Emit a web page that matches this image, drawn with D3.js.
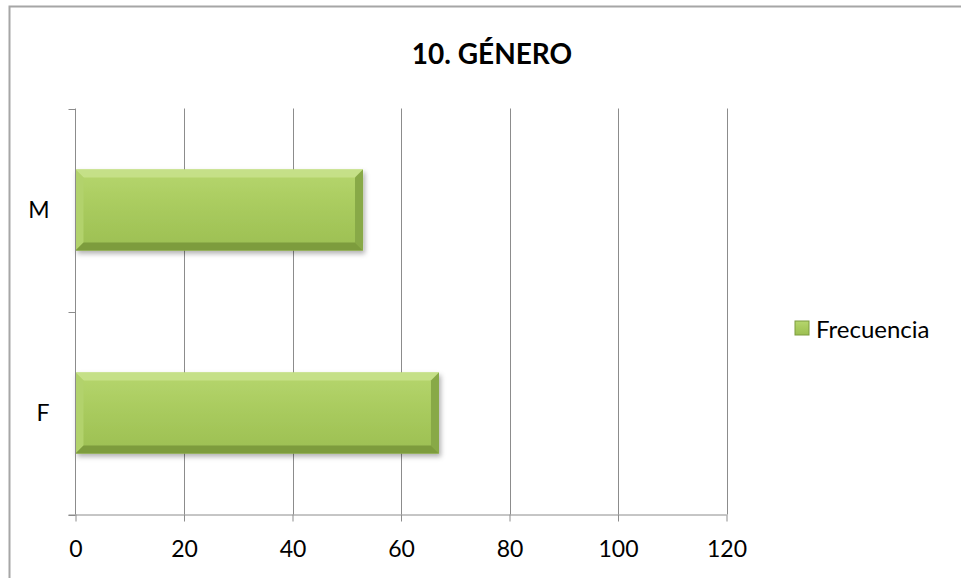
<!DOCTYPE html>
<html>
<head>
<meta charset="utf-8" />
<title>10. GÉNERO</title>
<script src="https://d3js.org/d3.v7.min.js"></script>
<style>
  body { margin: 0; background: #fff; }
  text { font-family: Lato, "Open Sans", sans-serif; fill: #000; }
</style>
</head>
<body>
<svg width="961" height="578"></svg>
<script>
// data
const categories = ["M", "F"];
const frecuencia = [53, 67];
const xTicks = [0, 20, 40, 60, 80, 100, 120];
const seriesName = "Frecuencia";
const chartTitle = "10. GÉNERO";

const svg = d3.select("svg");
const plot = { left: 75.5, right: 726.5, top: 108.5, bottom: 514.5 };

// outer frame
svg.append("rect")
  .attr("x", 9.5).attr("y", 6.5)
  .attr("width", 980).attr("height", 600)
  .attr("fill", "#fff").attr("stroke", "#a6a6a6").attr("stroke-width", 2);

const defs = svg.append("defs");
const grad = defs.append("linearGradient").attr("id", "barGrad")
  .attr("x1", 0).attr("y1", 0).attr("x2", 0).attr("y2", 1);
grad.append("stop").attr("offset", "0%").attr("stop-color", "#b6d66e");
grad.append("stop").attr("offset", "50%").attr("stop-color", "#a8ca5d");
grad.append("stop").attr("offset", "100%").attr("stop-color", "#9cbf53");

const shadow = defs.append("filter").attr("id", "shadow")
  .attr("x", "-5%").attr("y", "-20%").attr("width", "115%").attr("height", "150%");
shadow.append("feDropShadow").attr("dx", 2).attr("dy", 3).attr("stdDeviation", 2.5)
  .attr("flood-color", "#000").attr("flood-opacity", 0.3);

const x = d3.scaleLinear().domain([0, 120]).range([plot.left, plot.right]);
const y = d3.scaleBand().domain(categories).range([plot.top, plot.bottom])
  .paddingInner(0.6).paddingOuter(0.3);

// vertical gridlines
svg.append("g").selectAll("line")
  .data(xTicks.slice(1))
  .join("line")
  .attr("x1", d => Math.round(x(d)) + 0.5).attr("x2", d => Math.round(x(d)) + 0.5)
  .attr("y1", plot.top).attr("y2", plot.bottom)
  .attr("stroke", "#8c8c8c").attr("stroke-width", 1);

// bars with bevel
const bevel = 8;
const bars = svg.append("g").selectAll("g")
  .data(categories.map((c, i) => ({ cat: c, val: frecuencia[i] })))
  .join("g")
  .attr("filter", "url(#shadow)");

bars.append("rect")
  .attr("x", x(0))
  .attr("y", d => y(d.cat))
  .attr("width", d => x(d.val) - x(0))
  .attr("height", y.bandwidth())
  .attr("fill", "url(#barGrad)");

// top bevel
bars.append("polygon")
  .attr("points", d => {
    const x0 = x(0), x1 = x(d.val), y0 = y(d.cat);
    return [[x0, y0], [x1, y0], [x1 - bevel, y0 + bevel], [x0 + bevel, y0 + bevel]].join(" ");
  })
  .attr("fill", "#c6e18b").attr("opacity", 0.9);
// left bevel
bars.append("polygon")
  .attr("points", d => {
    const x0 = x(0), y0 = y(d.cat), y1 = y0 + y.bandwidth();
    return [[x0, y0], [x0 + bevel, y0 + bevel], [x0 + bevel, y1 - bevel], [x0, y1]].join(" ");
  })
  .attr("fill", "#b2d26c");
// right bevel
bars.append("polygon")
  .attr("points", d => {
    const x1 = x(d.val), y0 = y(d.cat), y1 = y0 + y.bandwidth();
    return [[x1, y0], [x1, y1], [x1 - bevel, y1 - bevel], [x1 - bevel, y0 + bevel]].join(" ");
  })
  .attr("fill", "#88a946");
// bottom bevel
bars.append("polygon")
  .attr("points", d => {
    const x0 = x(0), x1 = x(d.val), y1 = y(d.cat) + y.bandwidth();
    return [[x0, y1], [x0 + bevel, y1 - bevel], [x1 - bevel, y1 - bevel], [x1, y1]].join(" ");
  })
  .attr("fill", "#7d9c3e");

// x axis
const xAxis = svg.append("g")
  .attr("transform", `translate(0,${plot.bottom})`)
  .call(d3.axisBottom(x).tickValues(xTicks).tickSize(7).tickPadding(19).tickSizeOuter(0));
xAxis.select(".domain").attr("stroke", "#8c8c8c").attr("d", `M${plot.left - 7},0.5H${plot.right}`);
xAxis.selectAll(".tick line").attr("stroke", "#8c8c8c");
xAxis.selectAll(".tick text").attr("font-size", 23).attr("font-family", "Lato, sans-serif");

// y axis: ticks at category boundaries, labels centred on categories
const yAxis = svg.append("g").attr("transform", `translate(${plot.left},0)`);
yAxis.append("line")
  .attr("x1", 0).attr("x2", 0).attr("y1", plot.top).attr("y2", plot.bottom)
  .attr("stroke", "#8c8c8c");
const boundaries = [plot.top, (y("M") + y.bandwidth() + y("F")) / 2, plot.bottom];
yAxis.selectAll(".bt").data(boundaries).join("line")
  .attr("x1", -7).attr("x2", 0)
  .attr("y1", d => Math.round(d) + 0.5).attr("y2", d => Math.round(d) + 0.5)
  .attr("stroke", "#8c8c8c");
yAxis.selectAll(".lbl").data(categories).join("text")
  .attr("x", -26)
  .attr("y", d => y(d) + y.bandwidth() / 2)
  .attr("dy", "0.35em")
  .attr("text-anchor", "end")
  .attr("font-size", 23)
  .text(d => d);

// title
svg.append("text")
  .attr("x", 492).attr("y", 64)
  .attr("text-anchor", "middle")
  .attr("font-size", 28).attr("font-weight", "bold")
  .text(chartTitle);

// legend
const legend = svg.append("g").attr("transform", "translate(795,321)");
legend.append("rect")
  .attr("width", 14).attr("height", 14)
  .attr("fill", "url(#barGrad)").attr("stroke", "#7d9c3e").attr("stroke-width", 1);
legend.append("text")
  .attr("x", 21).attr("y", 17)
  .attr("font-size", 24)
  .text(seriesName);
</script>
</body>
</html>
